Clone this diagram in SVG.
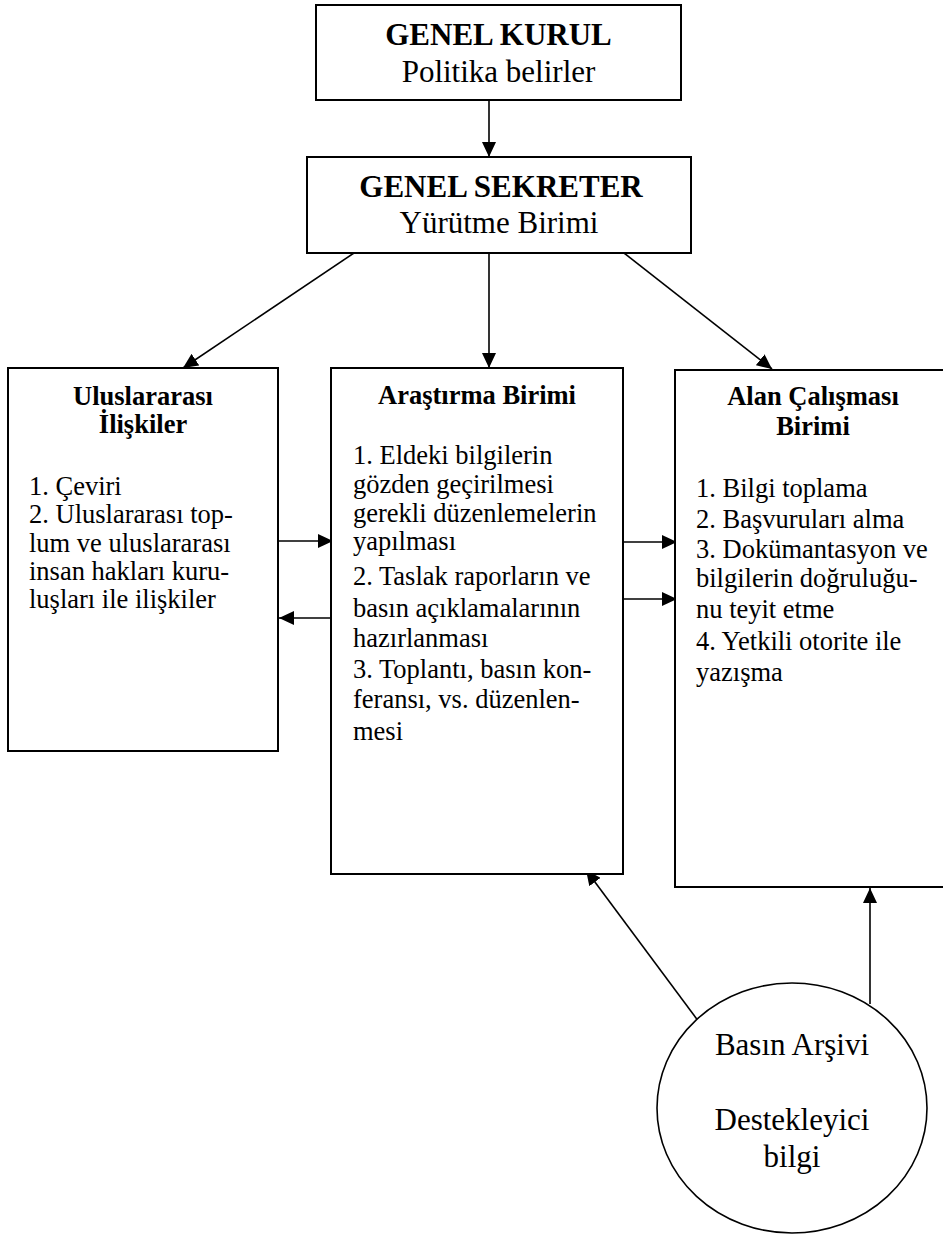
<svg xmlns="http://www.w3.org/2000/svg" width="943" height="1236" viewBox="0 0 943 1236">
<style>
text{font-family:"Liberation Serif","Times New Roman",serif;fill:#000}
.h{font-size:31px;font-weight:bold;text-anchor:middle}
.hs{font-size:31px;text-anchor:middle}
.t{font-size:26.5px;font-weight:bold;text-anchor:middle}
.b{font-size:26.5px}
.c{font-size:31px;text-anchor:middle}
.box{fill:#fff;stroke:#000;stroke-width:2}
.ln{fill:none;stroke:#000;stroke-width:1.6}
</style>
<defs>
<marker id="ah" markerUnits="userSpaceOnUse" markerWidth="16" markerHeight="14" refX="15" refY="7" orient="auto">
<path d="M0,0 L15,7 L0,14 Z" fill="#000"/>
</marker>
</defs>
<rect width="943" height="1236" fill="#fff"/>
<g id="connectors">
<line class="ln" x1="489" y1="101" x2="489" y2="157" marker-end="url(#ah)"/>
<line class="ln" x1="354" y1="253" x2="183" y2="368" marker-end="url(#ah)"/>
<line class="ln" x1="489" y1="253" x2="489" y2="368" marker-end="url(#ah)"/>
<line class="ln" x1="624" y1="253" x2="772" y2="369" marker-end="url(#ah)"/>
<line class="ln" x1="278" y1="541" x2="333" y2="541" marker-end="url(#ah)"/>
<line class="ln" x1="331" y1="618" x2="279" y2="618" marker-end="url(#ah)"/>
<line class="ln" x1="623" y1="542" x2="677" y2="542" marker-end="url(#ah)"/>
<line class="ln" x1="623" y1="599" x2="677" y2="599" marker-end="url(#ah)"/>
<line class="ln" x1="699" y1="1022" x2="586" y2="870" marker-end="url(#ah)"/>
<line class="ln" x1="870" y1="1004" x2="870" y2="888" marker-end="url(#ah)"/>
</g>
<g id="genel-kurul">
<rect class="box" x="316" y="5" width="365" height="95"/>
<text class="h" x="498.5" y="45">GENEL KURUL</text>
<text class="hs" x="498.5" y="82">Politika belirler</text>
</g>
<g id="genel-sekreter">
<rect class="box" x="307" y="157" width="384" height="96"/>
<text class="h" x="501" y="197">GENEL SEKRETER</text>
<text class="hs" x="499" y="233">Yürütme Birimi</text>
</g>
<g id="uluslararasi">
<rect class="box" x="8" y="368" width="270" height="383"/>
<text class="t" x="143" y="405">Uluslararası</text>
<text class="t" x="143" y="433">İlişkiler</text>
<text class="b" x="29" y="495">1. Çeviri</text>
<text class="b" x="29" y="523">2. Uluslararası top-</text>
<text class="b" x="29" y="552">lum ve uluslararası</text>
<text class="b" x="29" y="580">insan hakları kuru-</text>
<text class="b" x="29" y="608">luşları ile ilişkiler</text>
</g>
<g id="arastirma">
<rect class="box" x="331" y="368" width="292" height="506"/>
<text class="t" x="477" y="404">Araştırma Birimi</text>
<text class="b" x="353" y="464">1. Eldeki bilgilerin</text>
<text class="b" x="353" y="493">gözden geçirilmesi</text>
<text class="b" x="353" y="522">gerekli düzenlemelerin</text>
<text class="b" x="353" y="550">yapılması</text>
<text class="b" x="353" y="585">2. Taslak raporların ve</text>
<text class="b" x="353" y="617">basın açıklamalarının</text>
<text class="b" x="353" y="647">hazırlanması</text>
<text class="b" x="353" y="678">3. Toplantı, basın kon-</text>
<text class="b" x="353" y="708">feransı, vs. düzenlen-</text>
<text class="b" x="353" y="740">mesi</text>
</g>
<g id="alan-calismasi">
<rect class="box" x="675" y="370" width="276" height="517"/>
<text class="t" x="813" y="405">Alan Çalışması</text>
<text class="t" x="813" y="435">Birimi</text>
<text class="b" x="696" y="497">1. Bilgi toplama</text>
<text class="b" x="696" y="528">2. Başvuruları alma</text>
<text class="b" x="696" y="558">3. Dokümantasyon ve</text>
<text class="b" x="696" y="587">bilgilerin doğruluğu-</text>
<text class="b" x="696" y="618">nu teyit etme</text>
<text class="b" x="696" y="650">4. Yetkili otorite ile</text>
<text class="b" x="696" y="681">yazışma</text>
</g>
<g id="basin-arsivi">
<ellipse cx="792" cy="1108" rx="135" ry="125" fill="#fff" stroke="#000" stroke-width="1.6"/>
<text class="c" x="792" y="1055">Basın Arşivi</text>
<text class="c" x="792" y="1130">Destekleyici</text>
<text class="c" x="792" y="1167">bilgi</text>
</g>
</svg>
